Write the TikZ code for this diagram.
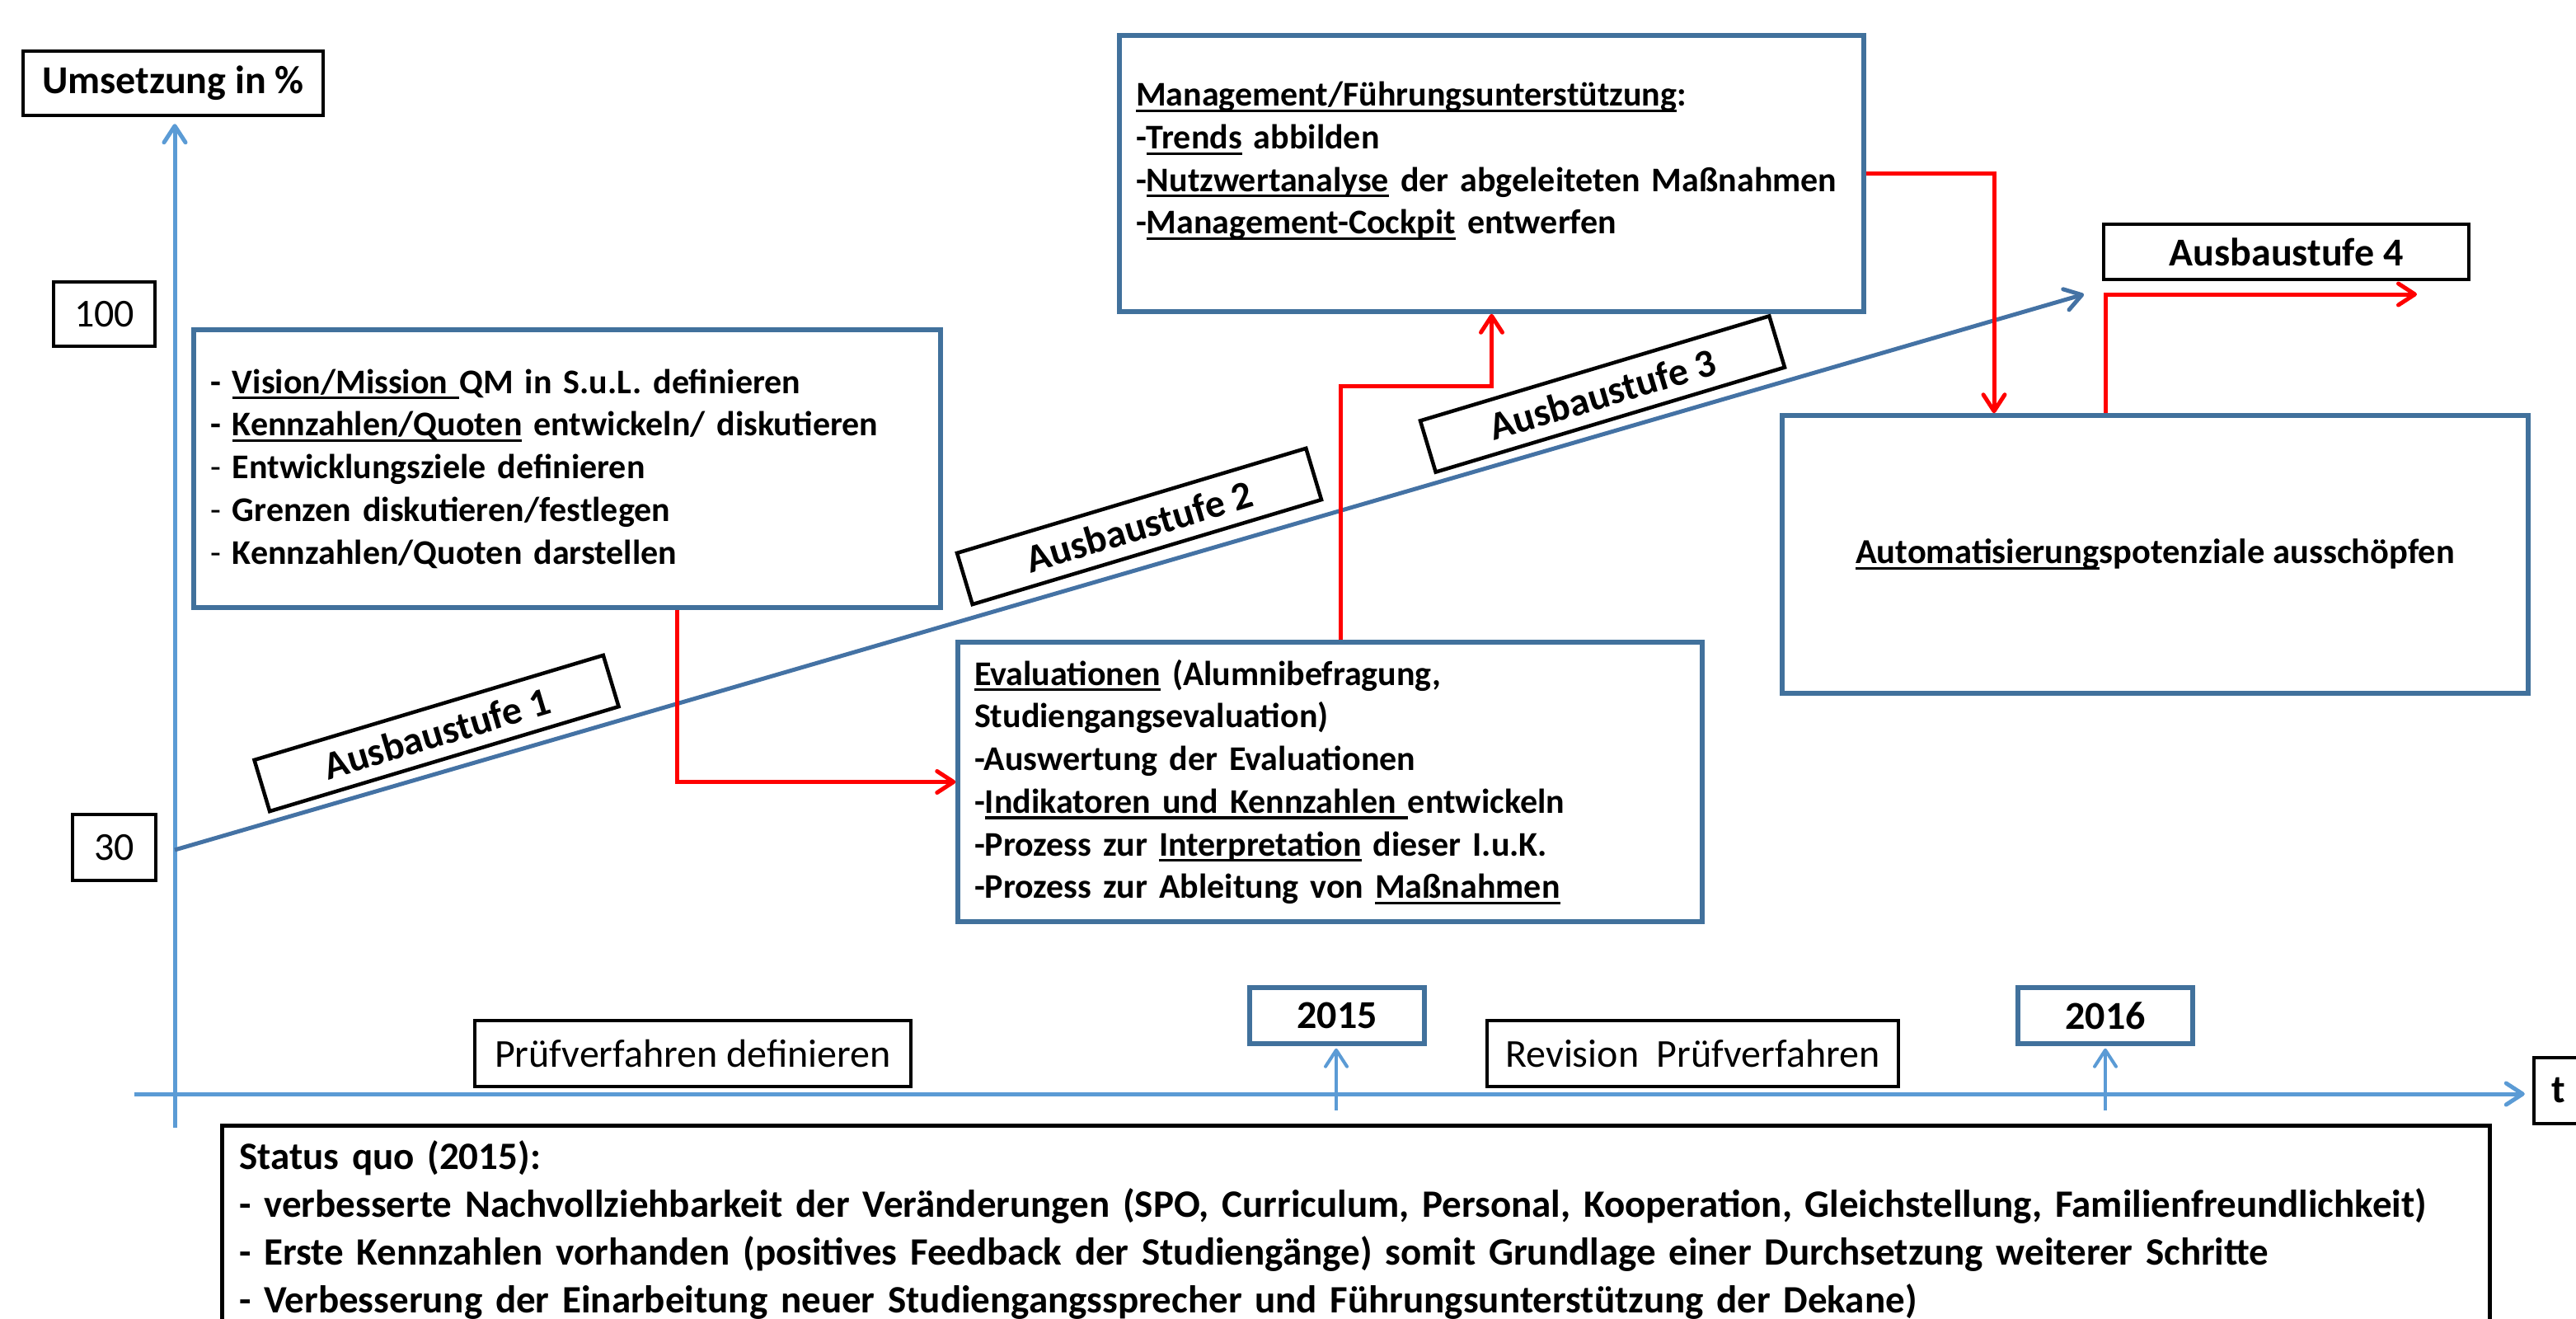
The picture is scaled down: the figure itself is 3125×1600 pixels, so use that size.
\documentclass[tikz,border=0pt]{standalone}
\usepackage{fontspec}
\setmainfont{Carlito}
\usetikzlibrary{arrows.meta,calc}
\definecolor{boxblue}{RGB}{65,113,156}
\definecolor{axisblue}{RGB}{91,155,213}
\definecolor{slopeblue}{RGB}{68,114,164}
\newcommand{\myul}[1]{\leavevmode\setbox0=\hbox{#1}\rlap{\rule[-0.17em]{\wd0}{0.075em}}\box0\relax}
\begin{document}
\begin{tikzpicture}[x=1pt,y=-1pt,
  bbox/.style={draw=black,line width=4.5pt,fill=white,inner sep=0pt},
  bluebox/.style={draw=boxblue,line width=5.5pt,fill=white,inner sep=0pt},
  txtbox/.style={bluebox,align=left,inner xsep=20pt,inner ysep=0pt,font=\fontsize{42}{51.7}\selectfont\bfseries},
  bigb/.style={font=\fontsize{48}{56}\selectfont\bfseries},
  bigr/.style={font=\fontsize{48}{56}\selectfont},
  stufe/.style={bbox,bigb,minimum width=442pt,minimum height=65pt,rotate=16.7},
  axis/.style={draw=axisblue,line width=5pt,-{Straight Barb[length=20pt,width=26pt,round]}},
  slope/.style={draw=slopeblue,line width=5pt,-{Straight Barb[length=20pt,width=26pt,round]}},
  redarr/.style={draw=red,line width=5pt,-{Straight Barb[length=20pt,width=26pt,round]}}]
\fill[white] (0,0) rectangle (3125,1600);
\useasboundingbox (0,0) rectangle (3125,1600);
\clip (0,0) rectangle (3125,1600);

% axis labels and value boxes
\node[bbox,bigb,minimum width=364pt,minimum height=78pt] (ylab) at (210,101) {Umsetzung in \%};
\node[bbox,bigr,minimum width=123pt,minimum height=78pt] (p100) at (126.5,381) {100};
\node[bbox,bigr,minimum width=101pt,minimum height=80pt] (p30) at (138.5,1028) {30};
\node[bbox,bigb,minimum width=60pt,minimum height=80pt] (tb) at (3104,1323) {t};
\node[bluebox,bigb,minimum width=212pt,minimum height=68pt] (y15) at (1622,1232) {2015};
\node[bluebox,bigb,minimum width=212pt,minimum height=68pt] (y16) at (2554,1232) {2016};
\node[bbox,bigr,minimum width=529pt,minimum height=80pt] (pv) at (840.5,1278) {Prüfverfahren definieren};
\node[bbox,bigr,minimum width=499pt,minimum height=80pt] (rv) at (2053.5,1278) {Revision\ \ Prüfverfahren};

% content boxes
\node[txtbox,text width=866pt,minimum height=337pt] (vis) at (688,568.5) {%
\mbox{- \myul{Vision/Mission }QM in S.u.L. definieren}\\
\mbox{- \myul{Kennzahlen/Quoten} entwickeln/ diskutieren}\\
\mbox{{\mdseries -} Entwicklungsziele definieren}\\
\mbox{{\mdseries -} Grenzen diskutieren/festlegen}\\
\mbox{{\mdseries -} Kennzahlen/Quoten darstellen}};
\node[txtbox,text width=863pt,minimum height=339pt] (ev) at (1613.5,948.5) {%
\mbox{\myul{Evaluationen} (Alumnibefragung,}\\
\mbox{Studiengangsevaluation)}\\
\mbox{-Auswertung der Evaluationen}\\
\mbox{-\myul{Indikatoren und Kennzahlen }entwickeln}\\
\mbox{-Prozess zur \myul{Interpretation} dieser I.u.K.}\\
\mbox{-Prozess zur Ableitung von \myul{Maßnahmen}}};
\node[txtbox,text width=863pt,minimum height=335pt] (mg) at (1809.5,210.5) {%
\mbox{\myul{Management/Führungsunterstützung}:}\\
\mbox{-\myul{Trends} abbilden}\\
\mbox{-\myul{Nutzwertanalyse} der abgeleiteten Maßnahmen}\\
\mbox{-\myul{Management-Cockpit} entwerfen}\\[-14pt]
\mbox{}};
\node[bluebox,font=\fontsize{42.5}{51.7}\selectfont\bfseries,minimum width=905pt,minimum height=337pt] (au) at (2614.5,672.5) {\myul{Automatisierung}spotenziale ausschöpfen};
\node[bbox,anchor=north west,align=left,text width=2709pt,inner xsep=21pt,minimum height=254pt,font=\fontsize{47}{58}\selectfont\bfseries] (sq) at (267,1363) {%
\mbox{Status quo (2015):}\\
\mbox{- verbesserte Nachvollziehbarkeit der Veränderungen (SPO, Curriculum, Personal, Kooperation, Gleichstellung, Familienfreundlichkeit)}\\
\mbox{- Erste Kennzahlen vorhanden (positives Feedback der Studiengänge) somit Grundlage einer Durchsetzung weiterer Schritte}\\
\mbox{- Verbesserung der Einarbeitung neuer Studiengangssprecher und Führungsunterstützung der Dekane)}};

% coordinates for free ends
\coordinate (yb) at (212,1368);
\coordinate (xa) at (163,1327);
\coordinate (s0) at (212,1031);
\coordinate (s1) at (2528,357);
\coordinate (t15) at (1621,1347);
\coordinate (t16) at (2554,1347);
\coordinate (a4end) at (2932,357);

% axes
\draw[axis,shorten >=8pt] (yb) -- (yb |- ylab.south);
\draw[axis,shorten >=9pt] (xa) -- (xa -| tb.west);
\draw[axis,line width=4pt,shorten >=3pt] (t15) -- (t15 |- y15.south);
\draw[axis,line width=4pt,shorten >=3pt] (t16) -- (t16 |- y16.south);
\draw[slope] (s0) -- (s1);

% stage labels
\node[stufe] (a1) at (529.5,889.5) {Ausbaustufe 1};
\node[stufe] (a2) at (1382,638.5) {Ausbaustufe 2};
\node[stufe] (a3) at (1944,478) {Ausbaustufe 3};
\node[bbox,bigb,minimum width=443pt,minimum height=67pt] (a4) at (2773.5,305.5) {Ausbaustufe 4};

% red flow
\draw[redarr] ([xshift=133pt]vis.south) |- (ev.west);
\draw[redarr] ([xshift=12.5pt]ev.north) -- ++(0,-308) -| (mg.south);
\draw[redarr] (mg.east) -| ([xshift=-195.5pt]au.north);
\draw[redarr] ([xshift=-60.5pt]au.north) |- (a4end);
\end{tikzpicture}
\end{document}
